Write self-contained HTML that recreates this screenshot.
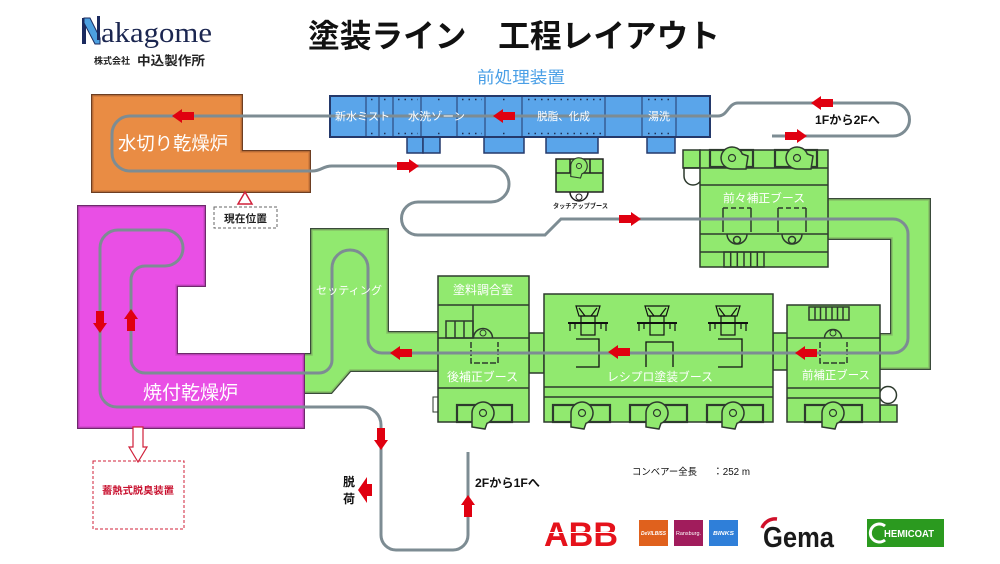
<!DOCTYPE html>
<html><head><meta charset="utf-8"><style>
html,body{margin:0;padding:0;background:#fff;width:1000px;height:564px;overflow:hidden}
svg{position:absolute;left:0;top:0}
</style></head><body>
<svg width="1000" height="564" viewBox="0 0 1000 564" xmlns="http://www.w3.org/2000/svg" font-family="'Liberation Sans','Noto Sans CJK JP',sans-serif">
<defs>
<path id="ar" d="M0,0 L-10,-7 L-10,-4 L-22,-4 L-22,4 L-10,4 L-10,7 Z" fill="#e00010"/>
<g id="fan"><path d="M-11,14 L-11,0 A11,11 0 1 1 4,10.3 L2,16 Z" fill="#91e96f" stroke="#2d3a2d" stroke-width="1.5"/><circle cx="0" cy="0" r="3.5" fill="none" stroke="#2d3a2d" stroke-width="1.2"/></g>
<g id="robot" fill="none" stroke="#111" stroke-width="1.2">
<path d="M-12,0 L12,0 L9,10 L-9,10 Z"/><path d="M-9,2 L-3,10 M9,2 L3,10"/>
<line x1="-20" y1="17" x2="20" y2="17" stroke-width="2"/>
<rect x="-7" y="10" width="14" height="19"/>
<path d="M-18,17 V25 M18,17 V25 M-13,17 V23 M13,17 V23"/>
</g>
</defs>

<!-- logo -->
<rect x="82" y="18" width="4" height="26" fill="#1b2a5e"/>
<polygon points="84,18 90,18 100,38 100,44 95,44 84,23" fill="#4da0e0" stroke="#1b2a5e" stroke-width="1"/>
<rect x="97" y="16" width="3" height="24" fill="#1b2a5e"/>
<text x="101" y="42" font-family="'Liberation Serif',serif" font-size="29" fill="#1b2650" textLength="111" lengthAdjust="spacingAndGlyphs">akagome</text>
<text x="94" y="64" font-size="9" font-weight="bold" fill="#222">株式会社</text>
<text x="137" y="65" font-size="12.5" font-weight="bold" fill="#222" textLength="68" lengthAdjust="spacingAndGlyphs">中込製作所</text>

<!-- title -->
<text x="308" y="47" font-size="32" font-weight="bold" fill="#111" textLength="412" lengthAdjust="spacingAndGlyphs">塗装ライン　工程レイアウト</text>
<text x="477" y="83" font-size="16.5" fill="#4a9fe6" textLength="88" lengthAdjust="spacingAndGlyphs">前処理装置</text>

<!-- setting area -->
<polygon points="303,355 312,355 312,230 387,230 387,333 438,333 438,370 350,370 331,392 303,392" fill="#91e96f" stroke="#3a4a3a" stroke-width="4"/>
<polygon points="303,355 312,355 312,230 387,230 387,333 438,333 438,370 350,370 331,392 303,392" fill="#91e96f" stroke="#86c067" stroke-width="1.5"/>

<!-- magenta oven -->
<polygon points="79,207 204,207 204,285 176,285 176,355 303,355 303,427 79,427" fill="#e94fe5" stroke="#6e2a6c" stroke-width="4"/>
<polygon points="79,207 204,207 204,285 176,285 176,355 303,355 303,427 79,427" fill="#e94fe5" stroke="#d148cc" stroke-width="1.5"/>

<!-- orange oven -->
<polygon points="93,96 241,96 241,152 309,152 309,191 93,191" fill="#e98c44" stroke="#6d3e22" stroke-width="4"/>
<polygon points="93,96 241,96 241,152 309,152 309,191 93,191" fill="#e98c44" stroke="#cf7a3c" stroke-width="1.5"/>

<!-- right U band -->
<polygon points="828,200 929,200 929,368 880,368 880,335 892,335 892,238 828,238" fill="#91e96f" stroke="#3a4a3a" stroke-width="4"/>
<polygon points="828,200 929,200 929,368 880,368 880,335 892,335 892,238 828,238" fill="#91e96f" stroke="#86c067" stroke-width="1.5"/>

<!-- 前々補正ブース -->
<g stroke="#2d3a2d" stroke-width="1.5" fill="#91e96f">
<rect x="683" y="150" width="17" height="18"/>
<path d="M684,168 L684,176 A9,9 0 0 0 702,176 L702,168 Z" fill="#fff"/>
<rect x="700" y="150" width="128" height="117"/>
<line x1="683" y1="168" x2="828" y2="168"/>
<line x1="700" y1="185" x2="828" y2="185"/>
<line x1="700" y1="234" x2="828" y2="234"/>
<line x1="700" y1="252" x2="828" y2="252"/>
<rect x="710" y="150" width="43" height="17" fill="none" stroke-width="2.2"/>
<rect x="775" y="150" width="42" height="17" fill="none" stroke-width="2.2"/>
<rect x="724" y="252" width="40" height="15" fill="none"/>
<path d="M730.7,252 V267 M737.3,252 V267 M744,252 V267 M750.7,252 V267 M757.3,252 V267" fill="none"/>
<path d="M723,232 V208 M751,232 V208 M778,232 V208 M806,232 V208" fill="none"/>
<path d="M723,208 H751 M778,208 H806" fill="none" stroke-dasharray="5,3"/>
<path d="M727,234 A10,10 0 0 0 747,234 M782,234 A10,10 0 0 0 802,234" fill="none"/>
<circle cx="737" cy="240" r="3.5" fill="none"/><circle cx="792" cy="240" r="3.5" fill="none"/>
</g>
<use href="#fan" transform="translate(732,158) rotate(-90)"/>
<use href="#fan" transform="translate(797,158) rotate(-90)"/>

<!-- touch-up booth -->
<g stroke="#222" stroke-width="1.5" fill="#91e96f">
<path d="M570,192 A9,9 0 0 0 588,192" fill="#fff"/>
<circle cx="579" cy="197" r="3" fill="none" stroke-width="1"/>
<rect x="556" y="159" width="47" height="33"/>
<line x1="556" y1="173" x2="603" y2="173"/>
<path d="M570,159 V173 M590,159 V173" fill="none"/>
</g>
<use href="#fan" transform="translate(579,166) scale(0.75)"/>
<text x="553" y="208" font-size="6.5" font-weight="bold" fill="#222" textLength="55" lengthAdjust="spacingAndGlyphs">タッチアップブース</text>

<!-- connectors -->
<rect x="529" y="333" width="15" height="40" fill="#91e96f" stroke="#2d3a2d" stroke-width="1.5"/>
<rect x="773" y="333" width="15" height="37" fill="#91e96f" stroke="#2d3a2d" stroke-width="1.5"/>

<!-- 後補正ブース -->
<g stroke="#2d3a2d" stroke-width="1.5" fill="#91e96f">
<rect x="433" y="397" width="5" height="15" fill="#fff" stroke-width="1"/>
<rect x="438" y="276" width="91" height="146"/>
<line x1="438" y1="305" x2="529" y2="305"/>
<line x1="438" y1="338" x2="529" y2="338"/>
<line x1="438" y1="388" x2="529" y2="388"/>
<line x1="473" y1="305" x2="473" y2="338"/>
<rect x="446" y="321" width="27" height="17" fill="none"/>
<path d="M455,321 V338 M464,321 V338" fill="none"/>
<path d="M473.5,338 A9.5,9.5 0 0 1 492.5,338" fill="none"/>
<circle cx="483" cy="333" r="3" fill="none" stroke-width="1"/>
<path d="M471,342 V363 H498 V342" fill="none" stroke-dasharray="6,2"/>
<rect x="457" y="405" width="55" height="17" fill="none" stroke-width="2.2"/>
</g>
<use href="#fan" transform="translate(483,413)"/>

<!-- レシプロ塗装ブース -->
<g stroke="#2d3a2d" stroke-width="1.5" fill="#91e96f">
<rect x="544" y="294" width="229" height="128"/>
<line x1="544" y1="387" x2="773" y2="387"/>
<line x1="544" y1="397" x2="773" y2="397"/>
<rect x="553" y="405" width="57" height="17" fill="none" stroke-width="2.2"/>
<rect x="630" y="405" width="57" height="17" fill="none" stroke-width="2.2"/>
<rect x="707" y="405" width="56" height="17" fill="none" stroke-width="2.2"/>
</g>
<g fill="none" stroke="#111" stroke-width="1.3">
<path d="M576,339 H599 V367 H576"/>
<path d="M646,367 V342 H673 V367"/>
<path d="M718,339 H742 V367 H718"/>
</g>
<use href="#robot" transform="translate(588,306)"/>
<use href="#robot" transform="translate(657,306)"/>
<use href="#robot" transform="translate(728,306)"/>
<use href="#fan" transform="translate(582,413)"/>
<use href="#fan" transform="translate(657,413)"/>
<use href="#fan" transform="translate(733,413)"/>

<!-- 前補正ブース -->
<g stroke="#2d3a2d" stroke-width="1.5" fill="#91e96f">
<rect x="880" y="405" width="17" height="17"/>
<circle cx="888" cy="395" r="8.5" fill="#fff"/>
<rect x="787" y="305" width="93" height="117"/>
<line x1="787" y1="338" x2="880" y2="338"/>
<line x1="787" y1="388" x2="880" y2="388"/>
<line x1="787" y1="398" x2="880" y2="398"/>
<rect x="809" y="307" width="40" height="13" fill="none"/>
<path d="M815,307 V320 M820.5,307 V320 M826,307 V320 M832,307 V320 M837.5,307 V320 M843,307 V320" fill="none"/>
<path d="M824.5,338 A8.5,8.5 0 0 1 841.5,338" fill="none"/>
<circle cx="833" cy="333" r="3" fill="none" stroke-width="1"/>
<path d="M820,342 V363 H847 V342" fill="none" stroke-dasharray="6,2"/>
<rect x="805" y="405" width="57" height="17" fill="none" stroke-width="2.2"/>
</g>
<use href="#fan" transform="translate(833,413)"/>

<!-- pretreatment blue bar -->
<g stroke="#24396b" fill="#5aa5ea">
<rect x="407" y="137" width="16" height="16" stroke-width="1.5"/>
<rect x="423" y="137" width="17" height="16" stroke-width="1.5"/>
<rect x="484" y="137" width="40" height="16" stroke-width="1.5"/>
<rect x="546" y="137" width="52" height="16" stroke-width="1.5"/>
<rect x="647" y="137" width="28" height="16" stroke-width="1.5"/>
<rect x="330" y="96" width="380" height="41" stroke-width="2"/>
<path d="M366,96 V137 M379,96 V137 M393,96 V137 M421,96 V137 M457,96 V137 M485,96 V137 M522,96 V137 M605,96 V137 M642,96 V137 M676,96 V137" stroke-width="1"/>
</g>
<g stroke="#1e2e55" stroke-width="1.6" stroke-dasharray="1.5,5" fill="none">
<path d="M371,99.5 H376 M384,99.5 H389 M398,99.5 H418 M438,99.5 H443 M462,99.5 H482 M503,99.5 H508 M528,99.5 H602 M648,99.5 H672"/>
<path d="M371,133.5 H376 M384,133.5 H389 M398,133.5 H418 M438,133.5 H443 M462,133.5 H482 M503,133.5 H508 M528,133.5 H602 M648,133.5 H672"/>
</g>

<!-- conveyor -->
<path d="M772,136 L893,136 A16.5,16.5 0 0 0 893,103 L738,103 C728,103 728,116 718,116 L130,116 A18,18 0 0 0 112,134 L112,153 A18,18 0 0 0 130,171 L312,171 C322,171 322,166 332,166 L491,166 A18,18 0 0 1 491,202 L418,202 A16.5,16.5 0 0 0 418,235 L545,235 L561,219 L893,219 A15,15 0 0 1 908,234 L908,338 A15,15 0 0 1 893,353 L382,353 A14,14 0 0 1 368,339 L368,268 A18,18 0 0 0 332,268 L332,360 A13,13 0 0 1 319,373 L145,373 A14,14 0 0 1 131,359 L131,280 A14,14 0 0 1 145,266 L165,266 A18,18 0 0 0 165,230 L118,230 A18,18 0 0 0 100,248 L100,390 A17,17 0 0 0 117,407 L363,407 A18,18 0 0 1 381,425 L381,535 A15,15 0 0 0 396,550 L453,550 A15,15 0 0 0 468,535 L468,452" fill="none" stroke="#7d8c93" stroke-width="3"/>

<!-- arrows -->
<use href="#ar" transform="translate(493,116) rotate(180)"/>
<use href="#ar" transform="translate(172,116) rotate(180)"/>
<use href="#ar" transform="translate(811,103) rotate(180)"/>
<use href="#ar" transform="translate(807,136)"/>
<use href="#ar" transform="translate(419,166)"/>
<use href="#ar" transform="translate(641,219)"/>
<use href="#ar" transform="translate(390,353) rotate(180)"/>
<use href="#ar" transform="translate(608,352) rotate(180)"/>
<use href="#ar" transform="translate(795,353) rotate(180)"/>
<use href="#ar" transform="translate(100,333) rotate(90)"/>
<use href="#ar" transform="translate(131,309) rotate(-90)"/>
<use href="#ar" transform="translate(381,450) rotate(90)"/>
<use href="#ar" transform="translate(468,495) rotate(-90)"/>
<polygon points="358,490 367,477 367,484 372,484 372,496 367,496 367,503" fill="#e00010"/>

<!-- current position & deodorizer -->
<polygon points="245,192 238,204 252,204" fill="#fff" stroke="#d0203a" stroke-width="1.5"/>
<rect x="214" y="207" width="63" height="21" fill="none" stroke="#666" stroke-width="1" stroke-dasharray="3,2"/>
<text x="224" y="222" font-size="10.5" font-weight="bold" fill="#222" textLength="43" lengthAdjust="spacingAndGlyphs">現在位置</text>
<polygon points="133,427 143,427 143,447 147,447 138,462 129,447 133,447" fill="#fff" stroke="#d0203a" stroke-width="1.2"/>
<rect x="93" y="461" width="91" height="68" fill="none" stroke="#d0203a" stroke-width="1" stroke-dasharray="3,2"/>
<text x="102" y="494" font-size="10" font-weight="bold" fill="#c8102e" textLength="72" lengthAdjust="spacingAndGlyphs">蓄熱式脱臭装置</text>

<!-- white labels -->
<g fill="#fff">
<text x="335" y="120" font-size="11" textLength="55" lengthAdjust="spacingAndGlyphs">新水ミスト</text>
<text x="408" y="120" font-size="11" textLength="57" lengthAdjust="spacingAndGlyphs">水洗ゾーン</text>
<text x="537" y="120" font-size="11" textLength="53" lengthAdjust="spacingAndGlyphs">脱脂、化成</text>
<text x="648" y="120" font-size="11" textLength="22" lengthAdjust="spacingAndGlyphs">湯洗</text>
<text x="118" y="150" font-size="18.5" textLength="110" lengthAdjust="spacingAndGlyphs">水切り乾燥炉</text>
<text x="143" y="399" font-size="19" textLength="95" lengthAdjust="spacingAndGlyphs">焼付乾燥炉</text>
<text x="316" y="294" font-size="11" textLength="66" lengthAdjust="spacingAndGlyphs">セッティング</text>
<text x="453" y="294" font-size="12" textLength="60" lengthAdjust="spacingAndGlyphs">塗料調合室</text>
<text x="447" y="381" font-size="12" textLength="71" lengthAdjust="spacingAndGlyphs">後補正ブース</text>
<text x="607" y="381" font-size="12" textLength="106" lengthAdjust="spacingAndGlyphs">レシプロ塗装ブース</text>
<text x="802" y="379" font-size="11.5" textLength="68" lengthAdjust="spacingAndGlyphs">前補正ブース</text>
<text x="723" y="202" font-size="11.5" textLength="82" lengthAdjust="spacingAndGlyphs">前々補正ブース</text>
</g>

<!-- black labels -->
<text x="815" y="124" font-size="12" font-weight="bold" fill="#111" textLength="65" lengthAdjust="spacingAndGlyphs">1Fから2Fへ</text>
<text x="475" y="487" font-size="12" font-weight="bold" fill="#111" textLength="65" lengthAdjust="spacingAndGlyphs">2Fから1Fへ</text>
<text x="343" y="486" font-size="12" font-weight="bold" fill="#111">脱</text>
<text x="343" y="503" font-size="12" font-weight="bold" fill="#111">荷</text>
<text x="632" y="475" font-size="9.5" fill="#111" textLength="65" lengthAdjust="spacingAndGlyphs">コンベアー全長</text>
<text x="713" y="475" font-size="10" fill="#111" textLength="37" lengthAdjust="spacingAndGlyphs">：252 m</text>

<!-- logos -->
<text x="544" y="546" font-size="34" font-weight="bold" fill="#e5121b" textLength="74" lengthAdjust="spacingAndGlyphs">ABB</text>
<line x1="543" y1="532.5" x2="620" y2="532.5" stroke="#fff" stroke-width="1"/>
<rect x="639" y="520" width="29" height="26" fill="#e0611d"/>
<text x="641" y="535" font-size="5" font-weight="bold" font-style="italic" fill="#fff" textLength="25" lengthAdjust="spacingAndGlyphs">DeVILBISS</text>
<rect x="674" y="520" width="29" height="26" fill="#a11c5c"/>
<text x="676" y="535" font-size="5" fill="#fff" textLength="25" lengthAdjust="spacingAndGlyphs">Ransburg.</text>
<rect x="709" y="520" width="29" height="26" fill="#2f7fd9"/>
<text x="713" y="535" font-size="5.5" font-weight="bold" font-style="italic" fill="#fff" textLength="21" lengthAdjust="spacingAndGlyphs">BINKS</text>
<path d="M762,528 A14,14 0 0 1 777,519" fill="none" stroke="#d0102a" stroke-width="3.5"/>
<text x="763" y="547" font-size="29" font-weight="bold" fill="#1a1a1a" textLength="71" lengthAdjust="spacingAndGlyphs">Gema</text>
<rect x="867" y="519" width="77" height="28" fill="#2b9a1f"/>
<path d="M885,526 A9,9 0 1 0 885,540" fill="none" stroke="#fff" stroke-width="3"/>
<text x="884" y="537" font-size="10.5" font-weight="bold" fill="#fff" textLength="50" lengthAdjust="spacingAndGlyphs">HEMICOAT</text>
</svg>
</body></html>
